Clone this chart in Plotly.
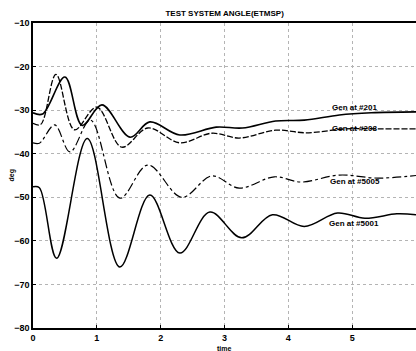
import plotly.graph_objects as go

# ---- data ----
t_201 = [0, 0.15, 0.5, 0.77, 1.08, 1.52, 1.83, 2.3, 2.87, 3.28, 3.8, 4.25, 4.8, 5.3, 6.0]
v_201 = [-30.6, -30.9, -22.4, -33.5, -28.8, -36.2, -32.7, -35.7, -33.9, -34.1, -32.5, -32.3, -31.1, -30.6, -30.4]

t_208 = [0, 0.12, 0.36, 0.65, 1.0, 1.39, 1.8, 2.3, 2.8, 3.23, 3.8, 4.28, 4.9, 5.5, 6.0]
v_208 = [-33.0, -33.3, -21.8, -34.5, -29.3, -38.5, -34.1, -37.5, -35.3, -36.4, -34.6, -35.2, -34.3, -34.3, -34.3]

t_5005 = [0, 0.1, 0.34, 0.58, 0.9, 1.36, 1.8, 2.33, 2.8, 3.23, 3.78, 4.2, 4.8, 5.4, 6.0]
v_5005 = [-37.5, -37.6, -33.4, -39.6, -32.3, -50.2, -42.6, -50.0, -45.1, -47.9, -45.3, -46.5, -44.9, -45.6, -45.0]

t_5001 = [0, 0.1, 0.37, 0.85, 1.36, 1.83, 2.3, 2.77, 3.27, 3.75, 4.25, 4.77, 5.2, 5.7, 6.0]
v_5001 = [-47.6, -47.8, -64.0, -36.5, -66.0, -49.5, -62.8, -53.4, -59.3, -54.0, -56.7, -53.6, -54.8, -53.8, -54.0]

labels = ["Gen at #201", "Gen at #208", "Gen at #5005", "Gen at #5001"]
label_t = [5.03, 5.03, 5.05, 5.03]
label_v = [-29.3, -34.3, -46.3, -56.1]

x_ticks = [0, 1, 2, 3, 4, 5, 6]
y_ticks = [-80, -70, -60, -50, -40, -30, -20, -10]

FONT = "Liberation Sans"

fig = go.Figure()
series = [
    (t_201, v_201, "solid", 1.6),
    (t_208, v_208, "6px,2px", 1.3),
    (t_5005, v_5005, "dashdot", 1.2),
    (t_5001, v_5001, "solid", 1.5),
]
for (t, v, dash, w), name in zip(series, labels):
    fig.add_trace(go.Scatter(x=t, y=v, mode="lines", name=name, hoverinfo="skip",
                             line=dict(color="black", width=w, dash=dash, shape="spline", smoothing=1.0)))

for txt, tx, vy in zip(labels, label_t, label_v):
    fig.add_annotation(x=tx, y=vy, text=txt, showarrow=False,
                       font=dict(family=FONT, size=8, color="black", weight="bold"))

fig.add_annotation(xref="paper", yref="paper", x=0.5, y=-0.066, text="time", showarrow=False,
                   yanchor="middle", font=dict(family=FONT, size=7, color="black", weight="bold"))
fig.add_annotation(xref="paper", yref="paper", x=-0.055, y=0.5, text="deg", showarrow=False,
                   textangle=-90, xanchor="center", yanchor="middle",
                   font=dict(family=FONT, size=7, color="black", weight="bold"))

axis_common = dict(showgrid=True, gridcolor="#b4b4b4", griddash="dot", gridwidth=1,
                   showline=True, linecolor="black", linewidth=1.5, mirror=True,
                   ticks="inside", ticklen=3, tickcolor="black", zeroline=False,
                   tickfont=dict(family=FONT, size=9, color="black", weight="bold"))

fig.update_layout(
    width=416, height=351,
    margin=dict(l=33, r=0, t=23, b=23),
    paper_bgcolor="white", plot_bgcolor="white",
    showlegend=False,
    title=dict(text="TEST SYSTEM ANGLE(ETMSP)", x=0.54, xanchor="center", y=1 - 13 / 351, yanchor="middle",
               font=dict(family=FONT, size=8, color="black", weight="bold")),
    xaxis=dict(range=[0, 6], tickvals=x_ticks, automargin=False, **axis_common),
    yaxis=dict(range=[-80, -10], tickvals=y_ticks, automargin=False, **axis_common),
)

fig.write_html("out.html", config={"displayModeBar": False},
               post_script="document.body.style.margin='0';document.body.style.overflow='hidden';")
